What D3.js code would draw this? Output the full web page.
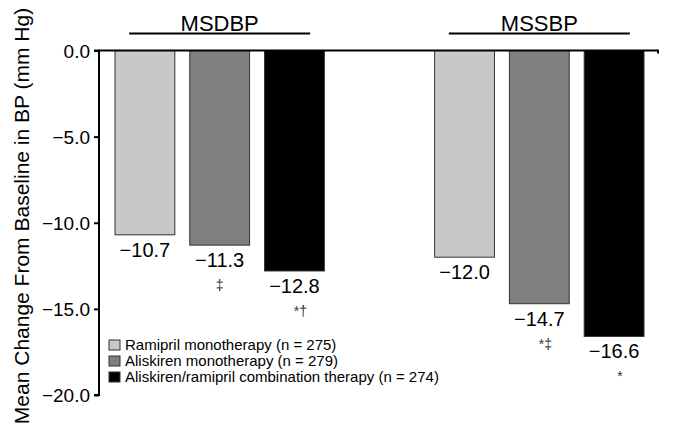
<!DOCTYPE html>
<html>
<head>
<meta charset="utf-8">
<script src="https://cdn.jsdelivr.net/npm/d3@7"></script>
<style>
  body { margin: 0; background: #fff; }
  svg text { font-family: "Liberation Sans", Arial, sans-serif; fill: #000; }
</style>
</head>
<body>
<svg width="680" height="429"></svg>
<script>
var groups = ["MSDBP", "MSSBP"];
var series = ["Ramipril monotherapy (n = 275)",
              "Aliskiren monotherapy (n = 279)",
              "Aliskiren/ramipril combination therapy (n = 274)"];
var colors = ["#c8c8c8", "#808080", "#000000"];
var msdbp = [-10.7, -11.3, -12.8];
var mssbp = [-12.0, -14.7, -16.6];
var marksD = ["", "‡", "*†"];
var marksS = ["", "*‡", "*"];
var yTicks = [0, -5, -10, -15, -20];

var data = [];
groups.forEach(function(g, gi) {
  var vals = gi == 0 ? msdbp : mssbp;
  var marks = gi == 0 ? marksD : marksS;
  series.forEach(function(s, si) {
    data.push({group: g, series: s, value: vals[si], mark: marks[si], color: colors[si]});
  });
});

var svg = d3.select("svg");

var y = d3.scaleLinear().domain([0, -20]).range([50.5, 395]);
var x0 = d3.scaleBand().domain(groups).range([115, 644]).paddingInner(0.345).paddingOuter(0);
var x1 = d3.scaleBand().domain(series).range([0, x0.bandwidth()]).paddingInner(0.2).paddingOuter(0);

function fmt(d) {
  return d3.format(".1f")(d).replace("-", "\u2212");
}

// bars
svg.append("g").selectAll("rect")
  .data(data)
  .enter().append("rect")
  .attr("x", function(d) { return x0(d.group) + x1(d.series); })
  .attr("y", y(0))
  .attr("width", x1.bandwidth())
  .attr("height", function(d) { return y(d.value) - y(0); })
  .attr("fill", function(d) { return d.color; })
  .attr("stroke", "#333")
  .attr("stroke-width", 1);

// value labels
svg.append("g").selectAll("text")
  .data(data)
  .enter().append("text")
  .attr("x", function(d) { return x0(d.group) + x1(d.series) + x1.bandwidth() / 2; })
  .attr("y", function(d) { return y(d.value) + 22; })
  .attr("text-anchor", "middle")
  .style("font-size", "20px")
  .text(function(d) { return fmt(d.value); });

// significance marks
svg.append("g").selectAll("text")
  .data(data.filter(function(d) { return d.mark != ""; }))
  .enter().append("text")
  .attr("x", function(d) { return x0(d.group) + x1(d.series) + x1.bandwidth() / 2 + (d.mark.indexOf("*") >= 0 ? 6 : 0); })
  .attr("y", function(d) { return y(d.value) + 45; })
  .attr("text-anchor", "middle")
  .style("font-size", "14px")
  .style("fill", "#333")
  .text(function(d) { return d.mark; });

// left axis
var axis = svg.append("g")
  .attr("transform", "translate(99,0)")
  .call(d3.axisLeft(y).tickValues(yTicks).tickSize(5).tickPadding(4).tickFormat(fmt));
axis.select(".domain").attr("stroke-width", 2).attr("d", "M-5," + y(0) + "H0V" + y(-20) + "H-5");
axis.selectAll(".tick line").attr("stroke-width", 2);
axis.selectAll(".tick text").style("font-size", "19px").attr("dy", "0.36em");

// zero line across the top
svg.append("path")
  .attr("d", "M99," + y(0) + "H658V" + (y(0) + 3))
  .attr("fill", "none")
  .attr("stroke", "#000")
  .attr("stroke-width", 2);

// group titles with underline
var gt = svg.append("g").selectAll("g")
  .data(groups)
  .enter().append("g")
  .attr("transform", function(d) { return "translate(" + (x0(d) + x0.bandwidth() / 2) + ",0)"; });
gt.append("text")
  .attr("y", 31)
  .attr("text-anchor", "middle")
  .style("font-size", "22px")
  .text(function(d) { return d; });
gt.append("line")
  .attr("x1", -90.5).attr("x2", 90.5)
  .attr("y1", 33.5).attr("y2", 33.5)
  .attr("stroke", "#000")
  .attr("stroke-width", 2);

// y axis title
svg.append("text")
  .attr("transform", "translate(29," + 216 + ") rotate(-90)")
  .attr("text-anchor", "middle")
  .style("font-size", "21px")
  .text("Mean Change From Baseline in BP (mm Hg)");

// legend
var leg = svg.append("g").selectAll("g")
  .data(series)
  .enter().append("g")
  .attr("transform", function(d, i) { return "translate(109," + (340 + i * 16) + ")"; });
leg.append("rect")
  .attr("width", 11).attr("height", 10)
  .attr("fill", function(d, i) { return colors[i]; })
  .attr("stroke", "#333")
  .attr("stroke-width", 1);
leg.append("text")
  .attr("x", 16)
  .attr("y", 10)
  .style("font-size", "15px")
  .text(function(d) { return d; });
</script>
</body>
</html>
